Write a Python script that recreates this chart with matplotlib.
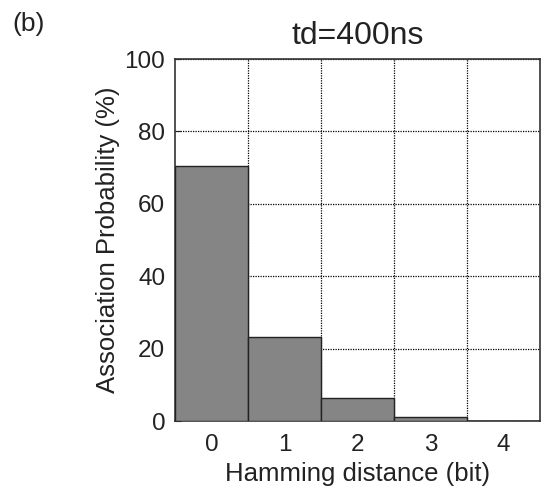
import matplotlib
matplotlib.use("Agg")
import matplotlib.pyplot as plt
import numpy as np

plt.rcParams['font.family'] = ['Liberation Sans', 'DejaVu Sans']

categories = [0, 1, 2, 3, 4]
values = [70.4, 23.3, 6.3, 1.2, 0.1]
yticks = [0, 20, 40, 60, 80, 100]

fig = plt.figure(figsize=(5.41, 4.92), dpi=100)
ax = fig.add_axes([0.3235, 0.1443, 0.6745, 0.7357])

ax.bar(categories, values, width=1.0, color='#858585', edgecolor='#222222', linewidth=1.0, zorder=3)

ax.set_xlim(-0.5, 4.5)
ax.set_ylim(0, 100)
ax.set_xticks(categories)
ax.set_xticks([c + 0.5 for c in categories[:-1]], minor=True)
ax.set_yticks(yticks)
ax.grid(True, which='minor', axis='x', color='black', linestyle=(0, (1, 1)), linewidth=0.9, zorder=1)
ax.grid(True, which='major', axis='y', color='black', linestyle=(0, (1, 1)), linewidth=0.9, zorder=1)
ax.tick_params(axis='both', which='major', labelsize=17.5, direction='in', length=4, colors='#222222')
ax.tick_params(axis='x', which='both', length=0, pad=9)
ax.tick_params(axis='y', pad=7)
for s in ax.spines.values():
    s.set_linewidth(1.2)
    s.set_color('#333333')

ax.set_xlabel('Hamming distance (bit)', fontsize=18.5, labelpad=5, color='#222222')
ax.set_ylabel('Association Probability (%)', fontsize=18.5, labelpad=3, color='#222222')
ax.set_title('td=400ns', fontsize=23, pad=11, color='#222222')
fig.text(0.022, 0.975, '(b)', fontsize=19, va='top', color='#222222')

fig.savefig('out.png', dpi=100)
